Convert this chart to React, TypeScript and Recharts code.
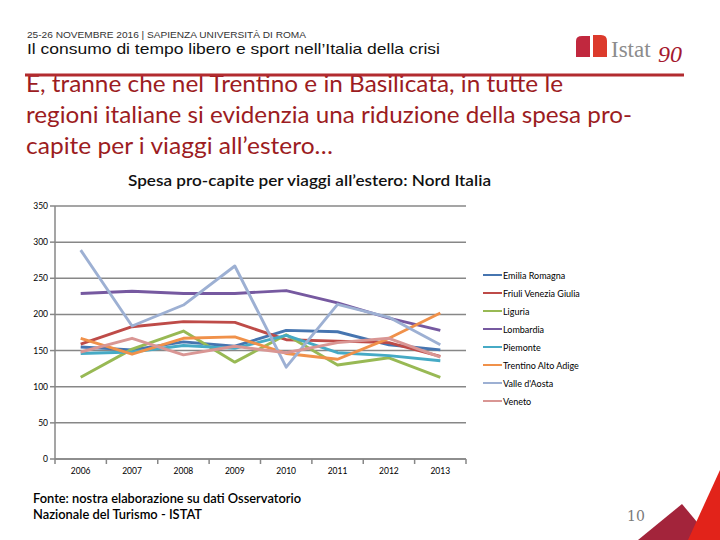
import React from 'react';
import { LineChart, Line, XAxis, YAxis, CartesianGrid, Legend } from 'recharts';

const years = ['2006', '2007', '2008', '2009', '2010', '2011', '2012', '2013'];
const yTicks = [0, 50, 100, 150, 200, 250, 300, 350];

const emiliaRomagna = [155, 151, 162, 156, 178, 176, 158, 151];
const friuliVeneziaGiulia = [159, 183, 190, 189, 165, 163, 161, 142];
const liguria = [113, 152, 177, 134, 172, 130, 140, 113];
const lombardia = [229, 232, 229, 229, 233, 216, 195, 178];
const piemonte = [146, 148, 157, 153, 171, 147, 143, 136];
const trentinoAltoAdige = [167, 145, 167, 169, 146, 138, 167, 202];
const valleDAosta = [289, 184, 213, 267, 127, 214, 196, 158];
const veneto = [148, 167, 144, 156, 147, 161, 167, 141];

const series = [
  { key: 'emilia', name: 'Emilia Romagna', values: emiliaRomagna, color: '#4675B0' },
  { key: 'friuli', name: 'Friuli Venezia Giulia', values: friuliVeneziaGiulia, color: '#BE4B48' },
  { key: 'liguria', name: 'Liguria', values: liguria, color: '#98B954' },
  { key: 'lombardia', name: 'Lombardia', values: lombardia, color: '#7659A0' },
  { key: 'piemonte', name: 'Piemonte', values: piemonte, color: '#46AAC5' },
  { key: 'trentino', name: 'Trentino Alto Adige', values: trentinoAltoAdige, color: '#F0914A' },
  { key: 'valle', name: "Valle d'Aosta", values: valleDAosta, color: '#9DB0D3' },
  { key: 'veneto', name: 'Veneto', values: veneto, color: '#D99694' },
];

const data = years.map((year, i) => {
  const row: Record<string, string | number> = { year };
  series.forEach((s) => (row[s.key] = s.values[i]));
  return row;
});

// plot box
const PLOT_LEFT = 55;
const PLOT_RIGHT = 466;
const PLOT_TOP = 206;
const PLOT_BOTTOM = 459;
const BAND = (PLOT_RIGHT - PLOT_LEFT) / years.length;
const GRID = '#878787';
const chartFont = "Lato, 'Open Sans', sans-serif";

const XTick = (props: any) => {
  const { x, payload, index } = props;
  const half = BAND / 2;
  return (
    <g>
      <line x1={x - half} x2={x - half} y1={PLOT_BOTTOM} y2={PLOT_BOTTOM + 5} stroke={GRID} strokeWidth={1.5} />
      {index === years.length - 1 && (
        <line x1={x + half} x2={x + half} y1={PLOT_BOTTOM} y2={PLOT_BOTTOM + 5} stroke={GRID} strokeWidth={1.5} />
      )}
      <text x={x} y={PLOT_BOTTOM + 15} textAnchor="middle" fontSize={8.5} fontFamily={chartFont} fill="#000">
        {payload.value}
      </text>
    </g>
  );
};

const LegendContent = (props: any) => {
  const items = props.payload || [];
  return (
    <div style={{ fontFamily: chartFont, fontSize: 9, color: '#000' }}>
      {items.map((it: any) => (
        <div key={it.value} style={{ display: 'flex', alignItems: 'center', height: 18 }}>
          <div style={{ width: 19, height: 2.5, background: it.color, marginRight: 1 }} />
          <span>{it.value}</span>
        </div>
      ))}
    </div>
  );
};

export default function App() {
  return (
    <div style={{ position: 'relative', width: 720, height: 540, background: '#fff', overflow: 'hidden' }}>
      <style>{'body{margin:0}'}</style>
      <svg width={720} height={540} style={{ position: 'absolute', left: 0, top: 0 }}>
        <text x={27} y={38} fontSize={9.5} fontFamily="'Liberation Sans', Arial, sans-serif" fill="#333" textLength={279} lengthAdjust="spacingAndGlyphs">
          25-26 NOVEMBRE 2016 | SAPIENZA UNIVERSITÀ DI ROMA
        </text>
        <text x={27} y={54} fontSize={15} fontFamily="'Liberation Sans', Arial, sans-serif" fill="#111" textLength={413} lengthAdjust="spacingAndGlyphs">
          Il consumo di tempo libero e sport nell’Italia della crisi
        </text>

        {/* logo */}
        <path d="M576 57 V41 Q576 36 582 36 H590 V57 Z" fill="#C1283E" />
        <path d="M593 57 V35 H601 Q607 35 607 41 V57 Z" fill="#DC3A2C" />
        <text x={611} y={57} fontSize={23} fontFamily="'Liberation Serif', serif" fill="#8C8C8C">
          Istat
        </text>
        <text x={658} y={62} fontSize={24} fontFamily="'Liberation Serif', serif" fontStyle="italic" fill="#A5192F">
          90
        </text>

        {/* subtitle block */}
        <g fontFamily="Lato, 'Open Sans', sans-serif" fontSize={24} fill="#9C1C22">
          <text x={26} y={92} textLength={537} lengthAdjust="spacingAndGlyphs">
            E, tranne che nel Trentino e in Basilicata, in tutte le
          </text>
          <text x={26} y={123} textLength={606} lengthAdjust="spacingAndGlyphs">
            regioni italiane si evidenzia una riduzione della spesa pro-
          </text>
          <text x={26} y={154} textLength={307} lengthAdjust="spacingAndGlyphs">
            capite per i viaggi all’estero…
          </text>
        </g>
        <line x1={25} x2={684} y1={75} y2={75} stroke="#B22B2F" strokeWidth={3} />

        <text x={128} y={186} fontSize={14.5} fontWeight={600} fontFamily={chartFont} fill="#111" textLength={363} lengthAdjust="spacingAndGlyphs">
          Spesa pro-capite per viaggi all’estero: Nord Italia
        </text>

        <g fontFamily={chartFont} fontSize={13} fontWeight={600} fill="#000">
          <text x={33} y={503} textLength={268} lengthAdjust="spacingAndGlyphs">
            Fonte: nostra elaborazione su dati Osservatorio
          </text>
          <text x={33} y={519} textLength={169} lengthAdjust="spacingAndGlyphs">
            Nazionale del Turismo - ISTAT
          </text>
        </g>
        <text x={627} y={521} fontSize={14} fontFamily="'DejaVu Serif', serif" fill="#7A7A7A">
          10
        </text>

        <polygon points="638,540 682,504 712,540" fill="#A3243B" />
        <polygon points="688,540 720,470 720,540" fill="#E2231A" />
      </svg>

      <div style={{ position: 'absolute', left: 0, top: 0 }}>
        <LineChart
          width={720}
          height={540}
          data={data}
          margin={{ top: PLOT_TOP, right: 720 - PLOT_RIGHT, bottom: 540 - PLOT_BOTTOM - 30, left: PLOT_LEFT - 40 }}
        >
          <CartesianGrid vertical={false} stroke={GRID} strokeWidth={1.5} />
          <XAxis
            dataKey="year"
            scale="point"
            padding={{ left: BAND / 2, right: BAND / 2 }}
            height={30}
            axisLine={{ stroke: GRID, strokeWidth: 1.5 }}
            tickLine={false}
            tick={<XTick />}
            interval={0}
          />
          <YAxis
            width={40}
            domain={[0, 350]}
            ticks={yTicks}
            interval={0}
            axisLine={{ stroke: GRID, strokeWidth: 1.5 }}
            tickLine={{ stroke: GRID, strokeWidth: 1.5 }}
            tickSize={5}
            tick={{ fontSize: 8.5, fontFamily: chartFont, fill: '#000' }}
          />
          <Legend
            layout="vertical"
            align="center"
            verticalAlign="middle"
            content={<LegendContent />}
            wrapperStyle={{ left: 483, top: 266, width: 130 }}
          />
          {series.map((s) => (
            <Line
              key={s.key}
              dataKey={s.key}
              name={s.name}
              type="linear"
              stroke={s.color}
              strokeWidth={2.9}
              strokeLinejoin="round"
              dot={false}
              isAnimationActive={false}
            />
          ))}
        </LineChart>
      </div>
    </div>
  );
}
